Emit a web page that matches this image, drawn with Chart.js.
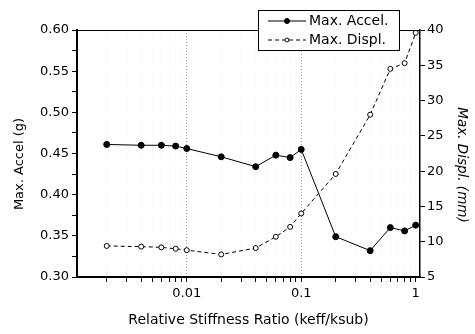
<!DOCTYPE html>
<html>
<head>
<meta charset="utf-8">
<script src="https://cdn.jsdelivr.net/npm/chart.js@4/dist/chart.umd.min.js"></script>
<style>
  body { margin: 0; background: #fff; }
  #wrap { width: 475px; height: 334px; }
</style>
</head>
<body>
<div id="wrap"><canvas id="c"></canvas></div>
<script>
// Data
const stiffness = [0.002, 0.004, 0.006, 0.008, 0.01, 0.02, 0.04, 0.06, 0.08, 0.1, 0.2, 0.4, 0.6, 0.8, 1.0];
const maxAccel = [0.461, 0.460, 0.460, 0.459, 0.456, 0.446, 0.434, 0.448, 0.445, 0.455, 0.349, 0.332, 0.360, 0.356, 0.363];
const maxDispl = [9.4, 9.3, 9.2, 9.0, 8.8, 8.2, 9.1, 10.7, 12.1, 14.0, 19.6, 28.0, 34.5, 35.3, 39.6];

const xTicks = [0.002, 0.003, 0.004, 0.005, 0.006, 0.007, 0.008, 0.009, 0.01,
  0.02, 0.03, 0.04, 0.05, 0.06, 0.07, 0.08, 0.09, 0.1,
  0.2, 0.3, 0.4, 0.5, 0.6, 0.7, 0.8, 0.9, 1];
const xLabels = [0.01, 0.1, 1];
const seriesNames = ["Max. Accel.", "Max. Displ."];

const FONT = "'DejaVu Sans', sans-serif";

function pts(ys) {
  return stiffness.map((x, i) => ({ x: x, y: ys[i] }));
}

// titles, frame top line and legend box
const extras = {
  id: 'extras',
  afterDraw(chart) {
    const ctx = chart.ctx;
    const a = chart.chartArea;
    ctx.save();
    ctx.strokeStyle = '#000';
    ctx.lineWidth = 1;
    ctx.beginPath();
    ctx.moveTo(a.left, a.top + 0.5);
    ctx.lineTo(a.right, a.top + 0.5);
    ctx.stroke();

    // y titles
    ctx.fillStyle = '#000';
    ctx.textAlign = 'center';
    ctx.textBaseline = 'middle';
    ctx.font = "13px " + FONT;
    ctx.save();
    ctx.translate(20, 164);
    ctx.rotate(-Math.PI / 2);
    ctx.fillText("Max. Accel (g)", 0, 0);
    ctx.restore();
    ctx.save();
    ctx.font = "italic 13.5px " + FONT;
    ctx.translate(461, 165);
    ctx.rotate(Math.PI / 2);
    ctx.fillText("Max. Displ. (mm)", 0, 0);
    ctx.restore();

    // legend
    const lx = 258, ly = 10, lw = 141, lh = 40;
    ctx.fillStyle = '#fff';
    ctx.fillRect(lx, ly, lw, lh);
    ctx.strokeRect(lx + 0.5, ly + 0.5, lw, lh);
    chart.data.datasets.forEach((ds, i) => {
      const y = ly + 11 + i * 19;
      ctx.strokeStyle = '#000';
      ctx.lineWidth = 1;
      ctx.setLineDash(ds.borderDash || []);
      ctx.beginPath();
      ctx.moveTo(268, y);
      ctx.lineTo(306, y);
      ctx.stroke();
      ctx.setLineDash([]);
      ctx.beginPath();
      ctx.arc(287, y, i === 0 ? 2.5 : 2, 0, Math.PI * 2);
      ctx.fillStyle = ds.pointBackgroundColor;
      ctx.fill();
      ctx.stroke();
      ctx.fillStyle = '#000';
      ctx.textAlign = 'left';
      ctx.font = "14px " + FONT;
      ctx.fillText(seriesNames[i], 309, y + 0.5);
    });
    ctx.restore();
  }
};

new Chart(document.getElementById('c'), {
  type: 'line',
  data: {
    datasets: [
      {
        label: seriesNames[0],
        data: pts(maxAccel),
        yAxisID: 'y',
        borderColor: '#000',
        borderWidth: 1,
        pointRadius: 3,
        pointBackgroundColor: '#000',
        pointBorderColor: '#000',
        tension: 0
      },
      {
        label: seriesNames[1],
        data: pts(maxDispl),
        yAxisID: 'y2',
        borderColor: '#000',
        borderWidth: 1,
        borderDash: [4, 3],
        pointRadius: 2.5,
        pointBackgroundColor: '#fff',
        pointBorderColor: '#000',
        pointBorderWidth: 1,
        tension: 0
      }
    ]
  },
  options: {
    responsive: true,
    maintainAspectRatio: false,
    animation: false,
    layout: { padding: { top: 30, left: 0, right: 0, bottom: 0 } },
    plugins: { legend: { display: false }, tooltip: { enabled: false } },
    scales: {
      x: {
        type: 'logarithmic',
        min: 0.0011,
        max: 1.09,
        afterBuildTicks: s => { s.ticks = xTicks.map(v => ({ value: v })); },
        afterFit: s => { s.height = 57; },
        ticks: {
          autoSkip: false,
          maxRotation: 0,
          color: '#000',
          padding: 4,
          font: { family: FONT, size: 13 },
          callback: v => xLabels.includes(v) ? String(v) : ''
        },
        grid: {
          drawOnChartArea: true,
          color: c => (c.tick && xLabels.includes(c.tick.value) && c.tick.value < 1) ? '#9a9a9a' : 'rgba(0,0,0,0.05)',
          tickColor: '#000',
          tickLength: 5
        },
        border: { display: true, color: '#000', width: 2, dash: [1, 2] },
        title: {
          display: true,
          text: 'Relative Stiffness Ratio (keff/ksub)',
          color: '#000',
          font: { family: FONT, size: 14 },
          padding: { top: 0, bottom: 5 }
        }
      },
      y: {
        position: 'left',
        min: 0.30,
        max: 0.60,
        afterFit: s => { s.width = 77; },
        ticks: {
          stepSize: 0.025,
          color: '#000',
          padding: 3,
          font: { family: FONT, size: 13 },
          callback: v => Math.round(v * 1000) % 50 === 0 ? v.toFixed(2) : ''
        },
        grid: { drawOnChartArea: false, tickColor: '#000', tickLength: 5 },
        border: { display: true, color: '#000', width: 2 }
      },
      y2: {
        position: 'right',
        min: 5,
        max: 40,
        afterFit: s => { s.width = 55; },
        ticks: {
          stepSize: 2.5,
          color: '#000',
          padding: 2,
          font: { family: FONT, size: 13 },
          callback: v => Math.round(v * 10) % 50 === 0 ? String(v) : ''
        },
        grid: { drawOnChartArea: false, tickColor: '#000', tickLength: 5 },
        border: { display: true, color: '#000', width: 1.5 }
      }
    }
  },
  plugins: [extras]
});
</script>
</body>
</html>
